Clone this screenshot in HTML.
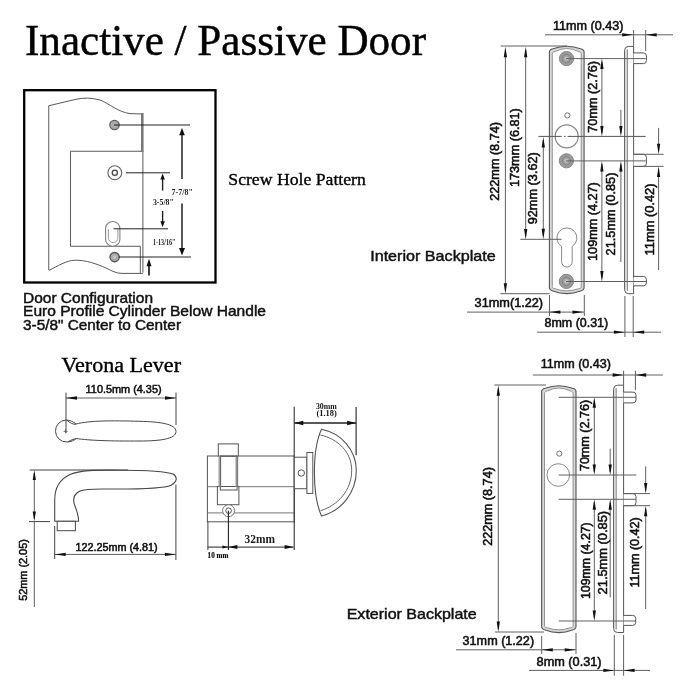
<!DOCTYPE html><html><head><meta charset="utf-8"><style>html,body{margin:0;padding:0;background:#fff;overflow:hidden}svg{display:block;filter:blur(0.45px)}</style></head><body>
<svg width="700" height="700" viewBox="0 0 700 700">
<rect width="700" height="700" fill="#fff"/>
<text x="25" y="54.5" style="font-family:'Liberation Serif',serif;font-size:43.5px;font-weight:normal" fill="#000" text-anchor="start" textLength="401" lengthAdjust="spacingAndGlyphs" stroke="#000" stroke-width="0.45" >Inactive / Passive Door</text>
<rect x="24.2" y="90.2" width="191.3" height="192.3" fill="none" stroke="#000" stroke-width="2.3"/>
<path d="M48.75,270 L48.75,105.75 L75,99.5 Q87.5,96.5 100,100 C110,104 118,112 130,113.6 L142.5,114" fill="none" stroke="#5a5a5a" stroke-width="1"/>
<path d="M48.75,270.5 C58,266 66,260.5 75,260.2 C86,260 97,264 106,268 C112,271 116,273.4 122,273.4 L142.9,273.4" fill="none" stroke="#5a5a5a" stroke-width="1"/>
<line x1="140.3" y1="246.25" x2="140.3" y2="273.4" stroke="#5a5a5a" stroke-width="1" />
<line x1="142.3" y1="113" x2="142.3" y2="151.5" stroke="#7a7a7a" stroke-width="2.6" />
<line x1="142.9" y1="151" x2="142.9" y2="272.5" stroke="#5a5a5a" stroke-width="1" />
<path d="M142,151.25 L70.5,151.25 L70.5,246.25 L140.3,246.25" fill="none" stroke="#5a5a5a" stroke-width="1"/>
<circle cx="114.5" cy="125" r="4.7" fill="#ababab" stroke="#5e5e5e" stroke-width="1.3"/>
<circle cx="114.8" cy="172.7" r="6.9" fill="#fff" stroke="#666" stroke-width="1.1"/>
<circle cx="114.8" cy="172.7" r="2.6" fill="#fff" stroke="#444" stroke-width="1.3"/>
<rect x="105.6" y="221.5" width="14.3" height="24.8" rx="7.1" ry="7.1" fill="#fff" stroke="#808080" stroke-width="1.1"/>
<path d="M108.4,229 L108.4,237.8 A4.75,4.75 0 0 0 117.9,237.8 L117.9,229" fill="none" stroke="#9a9a9a" stroke-width="1"/>
<circle cx="114.6" cy="257.1" r="4.6" fill="#ababab" stroke="#555" stroke-width="1.4"/>
<circle cx="114.6" cy="257.1" r="1.5" fill="#c8c8c8"/>
<line x1="114" y1="125" x2="190" y2="125" stroke="#222" stroke-width="1" />
<line x1="126" y1="172.8" x2="170" y2="172.8" stroke="#222" stroke-width="1" />
<line x1="113.6" y1="228.8" x2="168" y2="228.8" stroke="#222" stroke-width="1" />
<line x1="119" y1="257" x2="191" y2="257" stroke="#222" stroke-width="1" />
<line x1="182" y1="130" x2="182" y2="179" stroke="#222" stroke-width="1.5" />
<line x1="182" y1="203.5" x2="182" y2="250" stroke="#222" stroke-width="1.5" />
<polygon points="182.00,127.80 179.20,135.30 184.80,135.30" fill="#111"/>
<polygon points="182.00,255.60 179.00,248.10 185.00,248.10" fill="#111"/>
<line x1="162.6" y1="177" x2="162.6" y2="190.6" stroke="#222" stroke-width="1.4" />
<line x1="162.6" y1="211" x2="162.6" y2="222" stroke="#222" stroke-width="1.4" />
<polygon points="162.60,173.60 160.35,179.60 164.85,179.60" fill="#111"/>
<polygon points="162.60,227.20 160.35,221.20 164.85,221.20" fill="#111"/>
<line x1="149" y1="262" x2="149" y2="275.5" stroke="#111" stroke-width="1.6" />
<polygon points="149.00,258.80 146.50,266.30 151.50,266.30" fill="#111"/>
<text x="171.6" y="194.8" style="font-family:'Liberation Serif',serif;font-size:8.2px;font-weight:bold" fill="#222" text-anchor="start" textLength="21.2" lengthAdjust="spacingAndGlyphs" >7-7/8"</text>
<text x="152.9" y="204.6" style="font-family:'Liberation Serif',serif;font-size:8.4px;font-weight:bold" fill="#222" text-anchor="start" textLength="21" lengthAdjust="spacingAndGlyphs" >3-5/8"</text>
<text x="152.9" y="244.6" style="font-family:'Liberation Serif',serif;font-size:7.4px;font-weight:bold" fill="#222" text-anchor="start" textLength="22.6" lengthAdjust="spacingAndGlyphs" >1-13/16"</text>
<text x="228.3" y="184.5" style="font-family:'Liberation Serif',serif;font-size:17.6px;font-weight:normal" fill="#000" text-anchor="start" textLength="137.5" lengthAdjust="spacingAndGlyphs" stroke="#000" stroke-width="0.35" >Screw Hole Pattern</text>
<text x="23" y="302.6" style="font-family:'Liberation Sans',sans-serif;font-size:14.2px;font-weight:normal" fill="#111" text-anchor="start" textLength="130" lengthAdjust="spacingAndGlyphs" stroke="#111" stroke-width="0.45" >Door Configuration</text>
<text x="23" y="316.4" style="font-family:'Liberation Sans',sans-serif;font-size:14.2px;font-weight:normal" fill="#111" text-anchor="start" textLength="243" lengthAdjust="spacingAndGlyphs" stroke="#111" stroke-width="0.45" >Euro Profile Cylinder Below Handle</text>
<text x="23" y="330.3" style="font-family:'Liberation Sans',sans-serif;font-size:14.2px;font-weight:normal" fill="#111" text-anchor="start" textLength="158" lengthAdjust="spacingAndGlyphs" stroke="#111" stroke-width="0.45" >3-5/8" Center to Center</text>
<path d="M549.4,287.6 L549.4,52.2 C549.4,50.2 550.4,49.400000000000006 552.9,48.800000000000004 Q566.75,43.6 580.6,48.800000000000004 C583.1,49.400000000000006 584.1,50.2 584.1,52.2 L584.1,287.6 C584.1,289.6 583.1,290.40000000000003 580.6,291.0 Q566.75,296.20000000000005 552.9,291.0 C550.4,290.40000000000003 549.4,289.6 549.4,287.6 Z" fill="#d6d6d6" stroke="#555" stroke-width="1.1"/>
<path d="M552.3,286.6 L552.3,54.2 C552.3,52.400000000000006 553.3,51.800000000000004 555.3,51.400000000000006 Q566.75,45.6 578.2,51.400000000000006 C580.2,51.800000000000004 581.2,52.400000000000006 581.2,54.2 L581.2,286.6 C581.2,288.1 580.2,288.6 578.2,288.8 Q566.75,292.8 555.3,288.8 C553.3,288.6 552.3,288.1 552.3,286.6 Z" fill="#fff" stroke="#8a8a8a" stroke-width="0.9"/>
<circle cx="566.5" cy="58.6" r="7.1" fill="#9c9c9c" stroke="#858585" stroke-width="1"/>
<circle cx="566.5" cy="58.6" r="4.26" fill="none" stroke="#808080" stroke-width="0.9"/>
<circle cx="566.5" cy="58.6" r="2.2" fill="#bdbdbd"/>
<circle cx="566.4" cy="160.8" r="7.1" fill="#9c9c9c" stroke="#858585" stroke-width="1"/>
<circle cx="566.4" cy="160.8" r="4.26" fill="none" stroke="#808080" stroke-width="0.9"/>
<circle cx="566.4" cy="160.8" r="2.2" fill="#bdbdbd"/>
<circle cx="566.4" cy="281.4" r="7.1" fill="#9c9c9c" stroke="#858585" stroke-width="1"/>
<circle cx="566.4" cy="281.4" r="4.26" fill="none" stroke="#808080" stroke-width="0.9"/>
<circle cx="566.4" cy="281.4" r="2.2" fill="#bdbdbd"/>
<circle cx="567.4" cy="115.4" r="2.6" fill="none" stroke="#666" stroke-width="0.9"/>
<circle cx="566.7" cy="136.4" r="11.5" fill="none" stroke="#888" stroke-width="1.2"/>
<path d="M561.6,246.4 A10,10 0 1 1 572.2,246.4 L572.2,261.7 A5.3,5.3 0 0 1 561.6,261.7 Z" fill="none" stroke="#888" stroke-width="1"/>
<path d="M624.6,289.7 L624.6,50.4 Q624.6,46.4 628.6,46.4 L633.6,46.4 L633.6,293.7 L628.6,293.7 Q624.6,293.7 624.6,289.7 Z" fill="#fff" stroke="#555" stroke-width="1"/>
<rect x="625.1" y="49.4" width="2.3999999999999773" height="241.29999999999998" fill="#d4d4d4"/>
<line x1="627.5" y1="49.4" x2="627.5" y2="290.7" stroke="#8a8a8a" stroke-width="0.9" />
<path d="M633.6,52.9 L643.4,52.9 Q646.4,52.9 646.4,55.9 L646.4,60.6 Q646.4,63.6 643.4,63.6 L633.6,63.6" fill="#fff" stroke="#555" stroke-width="1"/>
<path d="M633.6,154.3 L643.4,154.3 Q646.4,154.3 646.4,157.3 L646.4,163.4 Q646.4,166.4 643.4,166.4 L633.6,166.4" fill="#fff" stroke="#555" stroke-width="1"/>
<path d="M633.6,276.4 L643.4,276.4 Q646.4,276.4 646.4,279.4 L646.4,282.8 Q646.4,285.8 643.4,285.8 L633.6,285.8" fill="#fff" stroke="#555" stroke-width="1"/>
<line x1="500.7" y1="46" x2="567" y2="46" stroke="#606060" stroke-width="1" />
<line x1="505.4" y1="50" x2="505.4" y2="290.5" stroke="#606060" stroke-width="1" />
<polygon points="505.40,46.80 503.75,57.30 507.05,57.30" fill="#111"/>
<polygon points="505.40,293.70 503.75,283.20 507.05,283.20" fill="#111"/>
<line x1="525.7" y1="50" x2="525.7" y2="236" stroke="#606060" stroke-width="1" />
<polygon points="525.70,46.80 524.05,57.30 527.35,57.30" fill="#111"/>
<polygon points="525.70,239.40 524.05,228.90 527.35,228.90" fill="#111"/>
<line x1="543.3" y1="140" x2="543.3" y2="236" stroke="#606060" stroke-width="1" />
<polygon points="543.30,137.00 541.65,147.50 544.95,147.50" fill="#111"/>
<polygon points="543.30,239.30 541.65,228.80 544.95,228.80" fill="#111"/>
<line x1="538.4" y1="136.4" x2="561.6" y2="136.4" stroke="#555" stroke-width="1" />
<line x1="564.1" y1="136.4" x2="565.6" y2="136.4" stroke="#555" stroke-width="1" />
<line x1="567.6" y1="136.4" x2="645.7" y2="136.4" stroke="#555" stroke-width="1" />
<line x1="520.3" y1="239.3" x2="561.5" y2="239.3" stroke="#606060" stroke-width="1" />
<line x1="500.3" y1="293.7" x2="549.5" y2="293.7" stroke="#606060" stroke-width="1" />
<line x1="566" y1="58.6" x2="645.7" y2="58.6" stroke="#606060" stroke-width="1" />
<line x1="566" y1="160.9" x2="645.7" y2="160.9" stroke="#606060" stroke-width="1" />
<line x1="566" y1="281.5" x2="646" y2="281.5" stroke="#606060" stroke-width="1" />
<line x1="601.9" y1="62" x2="601.9" y2="133" stroke="#606060" stroke-width="1" />
<polygon points="601.90,58.60 600.25,69.10 603.55,69.10" fill="#111"/>
<polygon points="601.90,136.40 600.25,125.90 603.55,125.90" fill="#111"/>
<line x1="601.9" y1="164" x2="601.9" y2="278" stroke="#606060" stroke-width="1" />
<polygon points="601.90,161.00 600.25,171.50 603.55,171.50" fill="#111"/>
<polygon points="601.90,281.50 600.25,271.00 603.55,271.00" fill="#111"/>
<line x1="620.9" y1="109.8" x2="620.9" y2="133" stroke="#606060" stroke-width="1" />
<polygon points="620.90,136.40 619.25,125.90 622.55,125.90" fill="#111"/>
<line x1="620.9" y1="164" x2="620.9" y2="262" stroke="#606060" stroke-width="1" />
<polygon points="620.90,161.00 619.25,171.50 622.55,171.50" fill="#111"/>
<line x1="658.6" y1="127.9" x2="658.6" y2="151" stroke="#606060" stroke-width="1" />
<polygon points="658.60,154.30 656.95,143.80 660.25,143.80" fill="#111"/>
<line x1="658.6" y1="169" x2="658.6" y2="270" stroke="#606060" stroke-width="1" />
<polygon points="658.60,166.40 656.95,176.90 660.25,176.90" fill="#111"/>
<line x1="633.6" y1="154.3" x2="663.6" y2="154.3" stroke="#606060" stroke-width="1" />
<line x1="633.6" y1="166.4" x2="663.6" y2="166.4" stroke="#606060" stroke-width="1" />
<line x1="545" y1="34.8" x2="673" y2="34.8" stroke="#606060" stroke-width="1" />
<polygon points="633.20,34.80 622.20,33.15 622.20,36.45" fill="#111"/>
<polygon points="645.70,34.80 656.70,33.15 656.70,36.45" fill="#111"/>
<line x1="633.6" y1="30" x2="633.6" y2="48" stroke="#606060" stroke-width="1" />
<line x1="645.7" y1="30" x2="645.7" y2="51" stroke="#606060" stroke-width="1" />
<line x1="467" y1="312.1" x2="584" y2="312.1" stroke="#606060" stroke-width="1" />
<polygon points="549.40,312.10 560.40,310.45 560.40,313.75" fill="#111"/>
<polygon points="583.50,312.10 572.50,310.45 572.50,313.75" fill="#111"/>
<line x1="549.5" y1="295" x2="549.5" y2="316" stroke="#606060" stroke-width="1" />
<line x1="584.3" y1="295" x2="584.3" y2="316" stroke="#606060" stroke-width="1" />
<line x1="537" y1="332.2" x2="661" y2="332.2" stroke="#606060" stroke-width="1" />
<polygon points="624.90,332.20 613.90,330.55 613.90,333.85" fill="#111"/>
<polygon points="633.20,332.20 644.20,330.55 644.20,333.85" fill="#111"/>
<line x1="624.9" y1="296" x2="624.9" y2="337" stroke="#606060" stroke-width="1" />
<line x1="633.2" y1="296" x2="633.2" y2="337" stroke="#606060" stroke-width="1" />
<text x="553" y="30" style="font-family:'Liberation Sans',sans-serif;font-size:12px;font-weight:normal" fill="#111" text-anchor="start" textLength="70.5" lengthAdjust="spacingAndGlyphs" stroke="#111" stroke-width="0.55" >11mm (0.43)</text>
<text transform="translate(498.7,200.7) rotate(-90)" x="0" y="0" style="font-family:'Liberation Sans',sans-serif;font-size:12px;font-weight:normal" fill="#111" textLength="78.6" lengthAdjust="spacingAndGlyphs" stroke="#111" stroke-width="0.55">222mm (8.74)</text>
<text transform="translate(519.3,187) rotate(-90)" x="0" y="0" style="font-family:'Liberation Sans',sans-serif;font-size:12px;font-weight:normal" fill="#111" textLength="78.8" lengthAdjust="spacingAndGlyphs" stroke="#111" stroke-width="0.55">173mm (6.81)</text>
<text transform="translate(537.4,224.3) rotate(-90)" x="0" y="0" style="font-family:'Liberation Sans',sans-serif;font-size:12px;font-weight:normal" fill="#111" textLength="72.1" lengthAdjust="spacingAndGlyphs" stroke="#111" stroke-width="0.55">92mm (3.62)</text>
<text transform="translate(596.7,132.7) rotate(-90)" x="0" y="0" style="font-family:'Liberation Sans',sans-serif;font-size:12px;font-weight:normal" fill="#111" textLength="71.8" lengthAdjust="spacingAndGlyphs" stroke="#111" stroke-width="0.55">70mm (2.76)</text>
<text transform="translate(597.2,260.9) rotate(-90)" x="0" y="0" style="font-family:'Liberation Sans',sans-serif;font-size:12px;font-weight:normal" fill="#111" textLength="78.6" lengthAdjust="spacingAndGlyphs" stroke="#111" stroke-width="0.55">109mm (4.27)</text>
<text transform="translate(615.4,255.4) rotate(-90)" x="0" y="0" style="font-family:'Liberation Sans',sans-serif;font-size:12px;font-weight:normal" fill="#111" textLength="82.8" lengthAdjust="spacingAndGlyphs" stroke="#111" stroke-width="0.55">21.5mm (0.85)</text>
<text transform="translate(653.6,255.4) rotate(-90)" x="0" y="0" style="font-family:'Liberation Sans',sans-serif;font-size:12px;font-weight:normal" fill="#111" textLength="71.9" lengthAdjust="spacingAndGlyphs" stroke="#111" stroke-width="0.55">11mm (0.42)</text>
<text x="474.6" y="306.9" style="font-family:'Liberation Sans',sans-serif;font-size:12px;font-weight:normal" fill="#111" text-anchor="start" textLength="68.5" lengthAdjust="spacingAndGlyphs" stroke="#111" stroke-width="0.55" >31mm(1.22)</text>
<text x="544.5" y="326.8" style="font-family:'Liberation Sans',sans-serif;font-size:12px;font-weight:normal" fill="#111" text-anchor="start" textLength="63.7" lengthAdjust="spacingAndGlyphs" stroke="#111" stroke-width="0.55" >8mm (0.31)</text>
<text x="370.2" y="261.4" style="font-family:'Liberation Sans',sans-serif;font-size:15px;font-weight:normal" fill="#111" text-anchor="start" textLength="125.5" lengthAdjust="spacingAndGlyphs" stroke="#111" stroke-width="0.45" >Interior Backplate</text>
<path d="M541.6,626.6 L541.6,391.7 C541.6,389.7 542.6,388.9 545.1,388.3 Q558.8,383.09999999999997 572.5,388.3 C575,388.9 576,389.7 576,391.7 L576,626.6 C576,628.6 575,629.4 572.5,630.0 Q558.8,635.2 545.1,630.0 C542.6,629.4 541.6,628.6 541.6,626.6 Z" fill="#d6d6d6" stroke="#555" stroke-width="1.1"/>
<path d="M544.5,625.6 L544.5,393.7 C544.5,391.9 545.5,391.3 547.5,390.9 Q558.8,385.09999999999997 570.1,390.9 C572.1,391.3 573.1,391.9 573.1,393.7 L573.1,625.6 C573.1,627.1 572.1,627.6 570.1,627.8000000000001 Q558.8,631.8000000000001 547.5,627.8000000000001 C545.5,627.6 544.5,627.1 544.5,625.6 Z" fill="#fff" stroke="#8a8a8a" stroke-width="0.9"/>
<circle cx="559.3" cy="453.6" r="2.6" fill="none" stroke="#666" stroke-width="0.9"/>
<circle cx="558.3" cy="475" r="11.3" fill="none" stroke="#888" stroke-width="1"/>
<path d="M613.6,628.5 L613.6,389.2 Q613.6,385.2 617.6,385.2 L623.6,385.2 L623.6,632.5 L617.6,632.5 Q613.6,632.5 613.6,628.5 Z" fill="#fff" stroke="#555" stroke-width="1"/>
<rect x="614.1" y="388.2" width="2.199999999999932" height="241.3" fill="#d4d4d4"/>
<line x1="616.3" y1="388.2" x2="616.3" y2="629.5" stroke="#8a8a8a" stroke-width="0.9" />
<path d="M623.6,392.1 L633,392.1 Q636,392.1 636,395.1 L636,399.9 Q636,402.9 633,402.9 L623.6,402.9" fill="#fff" stroke="#555" stroke-width="1"/>
<path d="M623.6,493.6 L633,493.6 Q636,493.6 636,496.6 L636,502.7 Q636,505.7 633,505.7 L623.6,505.7" fill="#fff" stroke="#555" stroke-width="1"/>
<path d="M623.6,615.4 L632.7,615.4 Q635.7,615.4 635.7,618.4 L635.7,622.4 Q635.7,625.4 632.7,625.4 L623.6,625.4" fill="#fff" stroke="#555" stroke-width="1"/>
<line x1="494.3" y1="385" x2="546" y2="385" stroke="#606060" stroke-width="1" />
<line x1="498.3" y1="389" x2="498.3" y2="629" stroke="#606060" stroke-width="1" />
<polygon points="498.30,385.20 496.65,395.70 499.95,395.70" fill="#111"/>
<polygon points="498.30,632.00 496.65,621.50 499.95,621.50" fill="#111"/>
<line x1="495" y1="632" x2="544" y2="632" stroke="#606060" stroke-width="1" />
<line x1="558.6" y1="397.3" x2="636" y2="397.3" stroke="#606060" stroke-width="1" />
<line x1="558.6" y1="475" x2="636.4" y2="475" stroke="#606060" stroke-width="1" />
<line x1="558.6" y1="499.3" x2="636" y2="499.3" stroke="#606060" stroke-width="1" />
<line x1="558.9" y1="621" x2="636" y2="621" stroke="#606060" stroke-width="1" />
<line x1="594.3" y1="400.5" x2="594.3" y2="472" stroke="#606060" stroke-width="1" />
<polygon points="594.30,397.30 592.65,407.80 595.95,407.80" fill="#111"/>
<polygon points="594.30,475.00 592.65,464.50 595.95,464.50" fill="#111"/>
<line x1="594.3" y1="502.5" x2="594.3" y2="618" stroke="#606060" stroke-width="1" />
<polygon points="594.30,499.30 592.65,509.80 595.95,509.80" fill="#111"/>
<polygon points="594.30,621.00 592.65,610.50 595.95,610.50" fill="#111"/>
<line x1="610.2" y1="448.6" x2="610.2" y2="472" stroke="#606060" stroke-width="1" />
<polygon points="610.20,475.00 608.55,464.50 611.85,464.50" fill="#111"/>
<line x1="610.2" y1="502.5" x2="610.2" y2="597.4" stroke="#606060" stroke-width="1" />
<polygon points="610.20,499.30 608.55,509.80 611.85,509.80" fill="#111"/>
<line x1="645.7" y1="466.4" x2="645.7" y2="490.5" stroke="#606060" stroke-width="1" />
<polygon points="645.70,493.60 644.05,483.10 647.35,483.10" fill="#111"/>
<line x1="645.7" y1="509" x2="645.7" y2="609" stroke="#606060" stroke-width="1" />
<polygon points="645.70,505.70 644.05,516.20 647.35,516.20" fill="#111"/>
<line x1="623.6" y1="493.6" x2="650" y2="493.6" stroke="#606060" stroke-width="1" />
<line x1="623.6" y1="505.7" x2="650" y2="505.7" stroke="#606060" stroke-width="1" />
<line x1="532.9" y1="375" x2="662.9" y2="375" stroke="#606060" stroke-width="1" />
<polygon points="623.60,375.00 612.60,373.35 612.60,376.65" fill="#111"/>
<polygon points="635.20,375.00 646.20,373.35 646.20,376.65" fill="#111"/>
<line x1="623.6" y1="370.7" x2="623.6" y2="385" stroke="#606060" stroke-width="1" />
<line x1="635.4" y1="370.7" x2="635.4" y2="390" stroke="#606060" stroke-width="1" />
<line x1="456" y1="649.8" x2="576" y2="649.8" stroke="#606060" stroke-width="1" />
<polygon points="541.80,649.80 552.80,648.15 552.80,651.45" fill="#111"/>
<polygon points="575.70,649.80 564.70,648.15 564.70,651.45" fill="#111"/>
<line x1="541.7" y1="636" x2="541.7" y2="654" stroke="#606060" stroke-width="1" />
<line x1="576" y1="633" x2="576" y2="654" stroke="#606060" stroke-width="1" />
<line x1="529" y1="670.4" x2="650" y2="670.4" stroke="#606060" stroke-width="1" />
<polygon points="614.30,670.40 603.30,668.75 603.30,672.05" fill="#111"/>
<polygon points="623.60,670.40 634.60,668.75 634.60,672.05" fill="#111"/>
<line x1="614.3" y1="635" x2="614.3" y2="675.7" stroke="#606060" stroke-width="1" />
<line x1="623.6" y1="635" x2="623.6" y2="675.7" stroke="#606060" stroke-width="1" />
<text x="540.7" y="368.1" style="font-family:'Liberation Sans',sans-serif;font-size:12px;font-weight:normal" fill="#111" text-anchor="start" textLength="70.3" lengthAdjust="spacingAndGlyphs" stroke="#111" stroke-width="0.55" >11mm (0.43)</text>
<text transform="translate(491.9,545.8) rotate(-90)" x="0" y="0" style="font-family:'Liberation Sans',sans-serif;font-size:12px;font-weight:normal" fill="#111" textLength="78.7" lengthAdjust="spacingAndGlyphs" stroke="#111" stroke-width="0.55">222mm (8.74)</text>
<text transform="translate(588.9,471.1) rotate(-90)" x="0" y="0" style="font-family:'Liberation Sans',sans-serif;font-size:12px;font-weight:normal" fill="#111" textLength="71.2" lengthAdjust="spacingAndGlyphs" stroke="#111" stroke-width="0.55">70mm (2.76)</text>
<text transform="translate(589.6,599) rotate(-90)" x="0" y="0" style="font-family:'Liberation Sans',sans-serif;font-size:12px;font-weight:normal" fill="#111" textLength="76.7" lengthAdjust="spacingAndGlyphs" stroke="#111" stroke-width="0.55">109mm (4.27)</text>
<text transform="translate(606.7,594.4) rotate(-90)" x="0" y="0" style="font-family:'Liberation Sans',sans-serif;font-size:12px;font-weight:normal" fill="#111" textLength="83.5" lengthAdjust="spacingAndGlyphs" stroke="#111" stroke-width="0.55">21.5mm (0.85)</text>
<text transform="translate(638.9,587.5) rotate(-90)" x="0" y="0" style="font-family:'Liberation Sans',sans-serif;font-size:12px;font-weight:normal" fill="#111" textLength="70.2" lengthAdjust="spacingAndGlyphs" stroke="#111" stroke-width="0.55">11mm (0.42)</text>
<text x="462.6" y="645" style="font-family:'Liberation Sans',sans-serif;font-size:12px;font-weight:normal" fill="#111" text-anchor="start" textLength="71.5" lengthAdjust="spacingAndGlyphs" stroke="#111" stroke-width="0.55" >31mm (1.22)</text>
<text x="536.6" y="665.6" style="font-family:'Liberation Sans',sans-serif;font-size:12px;font-weight:normal" fill="#111" text-anchor="start" textLength="65" lengthAdjust="spacingAndGlyphs" stroke="#111" stroke-width="0.55" >8mm (0.31)</text>
<text x="346.7" y="618.6" style="font-family:'Liberation Sans',sans-serif;font-size:15px;font-weight:normal" fill="#111" text-anchor="start" textLength="130" lengthAdjust="spacingAndGlyphs" stroke="#111" stroke-width="0.45" >Exterior Backplate</text>
<text x="61.5" y="371.6" style="font-family:'Liberation Serif',serif;font-size:20px;font-weight:normal" fill="#000" text-anchor="start" textLength="119.5" lengthAdjust="spacingAndGlyphs" stroke="#000" stroke-width="0.35" >Verona Lever</text>
<text x="85.6" y="393.4" style="font-family:'Liberation Sans',sans-serif;font-size:11px;font-weight:normal" fill="#111" text-anchor="start" textLength="76" lengthAdjust="spacingAndGlyphs" stroke="#111" stroke-width="0.55" >110.5mm (4.35)</text>
<line x1="66" y1="398" x2="176" y2="398" stroke="#606060" stroke-width="1" />
<polygon points="66.00,398.00 77.00,396.30 77.00,399.70" fill="#111"/>
<polygon points="176.00,398.00 165.00,396.30 165.00,399.70" fill="#111"/>
<line x1="176" y1="392.6" x2="176" y2="425" stroke="#444" stroke-width="1" />
<path d="M76,424 C 90,420.5 110,420.5 140,421.3 C 160,421.8 176,424 176,431.5 C 176,439 160,441 140,441 C 110,441.2 90,440.5 76,438.5" fill="#fff" stroke="#484848" stroke-width="1"/>
<path d="M76,424 C 73,421.5 70,420.2 66,420 A 11,11 0 1 0 67,442 C 71,441.8 74,440.6 76,438.5" fill="#fff" stroke="#484848" stroke-width="1"/>
<path d="M67,420.3 C 70,423 73,424.5 76,424.3" fill="none" stroke="#484848" stroke-width="1"/>
<line x1="66" y1="392.6" x2="66" y2="433" stroke="#444" stroke-width="1" />
<path d="M68,441.8 C 71,440 73.5,439 76,438.8" fill="none" stroke="#484848" stroke-width="1"/>
<line x1="63.5" y1="431.4" x2="67.5" y2="431.4" stroke="#555" stroke-width="0.8" />
<line x1="65.5" y1="429.4" x2="65.5" y2="433.4" stroke="#555" stroke-width="0.8" />
<path d="M54.7,521.3 L54.7,500 C54.7,489 58,480 70,474.5 C80,470 95,470 120,470.2 C145,470.3 165,471 173,474 C178,477 177,482 171,485.2 C163,488.8 140,489.2 110,489 C95,488.8 85,488.5 80,491 C73,494.5 72.5,500 75,506 C77,511 78.6,515 78.6,521.3 Z" fill="#fff" stroke="#484848" stroke-width="1.1"/>
<rect x="57.2" y="521.3" width="18.2" height="9.4" fill="#fff" stroke="#484848" stroke-width="1"/>
<line x1="29.6" y1="470" x2="127.9" y2="470" stroke="#444" stroke-width="1" />
<line x1="29" y1="521.6" x2="50" y2="521.6" stroke="#444" stroke-width="1" />
<line x1="34.3" y1="473" x2="34.3" y2="518.5" stroke="#606060" stroke-width="1" />
<line x1="34.3" y1="521.6" x2="34.3" y2="607" stroke="#606060" stroke-width="1" />
<polygon points="34.30,470.00 32.70,480.00 35.90,480.00" fill="#111"/>
<polygon points="34.30,521.60 32.70,511.60 35.90,511.60" fill="#111"/>
<line x1="54.7" y1="526" x2="54.7" y2="559" stroke="#444" stroke-width="1" />
<line x1="175.9" y1="484.7" x2="175.9" y2="560" stroke="#444" stroke-width="1" />
<line x1="54.7" y1="554.4" x2="175.9" y2="554.4" stroke="#606060" stroke-width="1" />
<polygon points="54.70,554.40 65.70,552.70 65.70,556.10" fill="#111"/>
<polygon points="175.90,554.40 164.90,552.70 164.90,556.10" fill="#111"/>
<text x="75.4" y="551" style="font-family:'Liberation Sans',sans-serif;font-size:11px;font-weight:normal" fill="#111" text-anchor="start" textLength="82.3" lengthAdjust="spacingAndGlyphs" stroke="#111" stroke-width="0.55" >122.25mm (4.81)</text>
<text transform="translate(27.2,600.8) rotate(-90)" x="0" y="0" style="font-family:'Liberation Sans',sans-serif;font-size:11px;font-weight:normal" fill="#111" textLength="61.6" lengthAdjust="spacingAndGlyphs" stroke="#111" stroke-width="0.55">52mm (2.05)</text>
<rect x="207.4" y="456" width="86.9" height="65.8" fill="#fff" stroke="#555" stroke-width="1"/>
<line x1="207.4" y1="486.7" x2="294.3" y2="486.7" stroke="#777" stroke-width="1" />
<line x1="207.4" y1="512.9" x2="294.3" y2="512.9" stroke="#777" stroke-width="1" />
<line x1="207.9" y1="521.8" x2="207.9" y2="550" stroke="#444" stroke-width="1" />
<line x1="294.2" y1="406.7" x2="294.2" y2="550" stroke="#333" stroke-width="1.1" />
<rect x="218.3" y="443.9" width="20" height="12.2" fill="#fff" stroke="#555" stroke-width="1"/>
<rect x="217.4" y="486.5" width="21.5" height="18.2" fill="#fff" stroke="#555" stroke-width="1"/>
<rect x="218.3" y="456.5" width="3" height="30" fill="#bbb"/>
<rect x="235.3" y="456.5" width="3" height="30" fill="#bbb"/>
<rect x="220.3" y="456" width="16.8" height="34" fill="none" stroke="#555" stroke-width="1"/>
<circle cx="228.6" cy="510.7" r="6" fill="#fff" stroke="#777" stroke-width="1"/>
<circle cx="228.6" cy="510.7" r="2.8" fill="#fff" stroke="#555" stroke-width="1"/>
<line x1="228.4" y1="510.7" x2="228.4" y2="550" stroke="#222" stroke-width="1.1" />
<line x1="207.9" y1="547.1" x2="228.4" y2="547.1" stroke="#222" stroke-width="1" />
<polygon points="228.40,547.10 222.40,545.60 222.40,548.60" fill="#111"/>
<line x1="228.4" y1="547.1" x2="293.6" y2="547.1" stroke="#222" stroke-width="1" />
<polygon points="228.40,547.10 237.40,545.10 237.40,549.10" fill="#111"/>
<polygon points="293.60,547.10 284.60,545.10 284.60,549.10" fill="#111"/>
<text x="244.6" y="542.9" style="font-family:'Liberation Serif',serif;font-size:12.2px;font-weight:bold" fill="#222" text-anchor="start" textLength="30.5" lengthAdjust="spacingAndGlyphs" >32mm</text>
<text x="207.6" y="557.6" style="font-family:'Liberation Serif',serif;font-size:7.6px;font-weight:bold" fill="#111" text-anchor="start" textLength="20.8" lengthAdjust="spacingAndGlyphs" stroke="#111" stroke-width="0.2" >10 mm</text>
<rect x="294.3" y="457.2" width="12.6" height="31.5" fill="#fff" stroke="#555" stroke-width="1"/>
<circle cx="301.3" cy="473" r="3.2" fill="#fff" stroke="#555" stroke-width="1"/>
<rect x="306.9" y="452.5" width="5.9" height="40.9" fill="#fff" stroke="#555" stroke-width="1"/>
<path d="M321.5,429.3 C 341,433 356.3,450 356.3,470.5 C 356.3,493 341,511 321.5,516 C 316.5,505 314.4,490 314.4,472.5 C 314.4,455 316.5,440 321.5,429.3 Z" fill="#fff" stroke="#555" stroke-width="1.1"/>
<path d="M320.5,435 C 338,439 351.7,452 351.7,470.5 C 351.7,490 338,505.5 320.5,510.7" fill="none" stroke="#666" stroke-width="1"/>
<line x1="356.1" y1="407" x2="356.1" y2="455.3" stroke="#222" stroke-width="1.1" />
<line x1="294.3" y1="423" x2="356.1" y2="423" stroke="#222" stroke-width="1.5" />
<polygon points="294.30,423.00 303.30,420.80 303.30,425.20" fill="#111"/>
<polygon points="356.10,423.00 347.10,420.80 347.10,425.20" fill="#111"/>
<text x="315.9" y="409.3" style="font-family:'Liberation Serif',serif;font-size:8.6px;font-weight:bold" fill="#111" text-anchor="start" textLength="20.9" lengthAdjust="spacingAndGlyphs" >30mm</text>
<text x="316.4" y="416.2" style="font-family:'Liberation Serif',serif;font-size:8.6px;font-weight:bold" fill="#111" text-anchor="start" textLength="20.4" lengthAdjust="spacingAndGlyphs" >(1.18)</text>
</svg></body></html>
